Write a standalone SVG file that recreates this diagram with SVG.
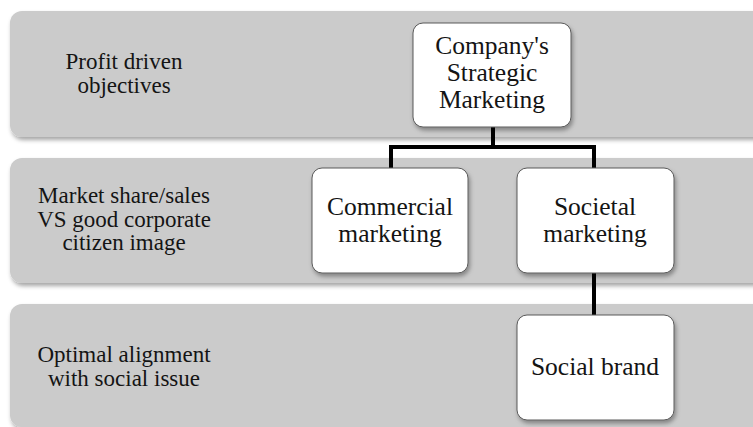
<svg xmlns="http://www.w3.org/2000/svg" width="753" height="427" viewBox="0 0 753 427">
<defs>
<filter id="sh" x="-10%" y="-10%" width="125%" height="130%">
<feDropShadow dx="1.5" dy="3" stdDeviation="2" flood-color="#000" flood-opacity="0.35"/>
</filter>
<style>
.band{fill:#cbcbcb;filter:url(#sh)}
.box{fill:#ffffff;stroke:#5a5a5a;stroke-width:1;filter:url(#sh)}
.lbl{font-family:"Liberation Serif","DejaVu Serif",serif;font-size:23px;fill:#141414;text-anchor:middle}
.txt{font-family:"Liberation Serif","DejaVu Serif",serif;font-size:25.5px;fill:#141414;text-anchor:middle}
.con{fill:none;stroke:#000;stroke-width:4}
</style>
</defs>
<rect width="753" height="427" fill="#fff"/>
<g id="band1">
<rect class="band" x="10" y="11" width="780" height="126" rx="12"/>
<text class="lbl" x="124" y="69">Profit driven</text>
<text class="lbl" x="124" y="93">objectives</text>
</g>
<g id="band2">
<rect class="band" x="10" y="158" width="780" height="125" rx="12"/>
<text class="lbl" x="124" y="203">Market share/sales</text>
<text class="lbl" x="124" y="227">VS good corporate</text>
<text class="lbl" x="124" y="250">citizen image</text>
</g>
<g id="band3">
<rect class="band" x="10" y="304" width="780" height="123" rx="12"/>
<text class="lbl" x="124" y="362">Optimal alignment</text>
<text class="lbl" x="124" y="386">with social issue</text>
</g>
<g id="connectors">
<path class="con" d="M493 127 V147"/>
<path class="con" d="M391 169 V147 H594 V169"/>
<path class="con" d="M594 273 V316"/>
</g>
<g id="company">
<rect class="box" x="413" y="23" width="158" height="104" rx="10"/>
<text class="txt" x="492" y="54">Company's</text>
<text class="txt" x="492" y="81">Strategic</text>
<text class="txt" x="492" y="108">Marketing</text>
</g>
<g id="commercial">
<rect class="box" x="312" y="168" width="156" height="105" rx="10"/>
<text class="txt" x="390" y="215">Commercial</text>
<text class="txt" x="390" y="242">marketing</text>
</g>
<g id="societal">
<rect class="box" x="517" y="168" width="157" height="105" rx="10"/>
<text class="txt" x="595" y="215">Societal</text>
<text class="txt" x="595" y="242">marketing</text>
</g>
<g id="socialbrand">
<rect class="box" x="517" y="315" width="157" height="105" rx="10"/>
<text class="txt" x="595" y="375">Social brand</text>
</g>
</svg>
